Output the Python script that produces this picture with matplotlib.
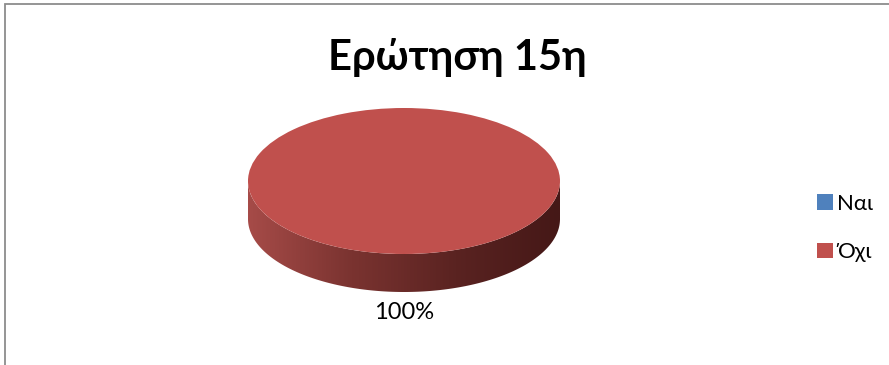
import numpy as np
import matplotlib
matplotlib.use("Agg")
import matplotlib.pyplot as plt
from matplotlib.colors import LinearSegmentedColormap
from matplotlib.patches import Polygon, Rectangle

plt.rcParams["font.family"] = ["Lato", "DejaVu Sans"]

W, H = 889, 365

titulo = "Ερώτηση 15η"
categorias = ["Ναι", "Όχι"]
valores = [0, 100]
colores = ["#4F81BD", "#C0504D"]

# geometria del pastel (pixeles)
cx, cy = 404, 181
rx, ry = 156, 73
grosor = 38
d = grosor / ry


def px_x(x):
    return x / W


def px_y(y):
    return 1 - y / H


fig = plt.figure(figsize=(W / 100, H / 100), dpi=100)

# marco gris
fig.patches.append(Rectangle((px_x(4.5), -0.1), 1.2, px_y(4.5) + 0.1,
                             transform=fig.transFigure, fill=False,
                             edgecolor="#8C8C8C", linewidth=1.3))

# ejes del pastel: radio 1 -> rx, ry pixeles
mx, my = 1.3, 1.3
ax_w = 2 * mx * rx
ax_h = (2 * my + d) * ry
left = cx - mx * rx
top = cy - my * ry
ax = fig.add_axes([px_x(left), px_y(top + ax_h), ax_w / W, ax_h / H])

wedges, _ = ax.pie(valores, colors=colores, startangle=90, counterclock=False,
                   radius=1, center=(0, 0),
                   wedgeprops=dict(edgecolor="none", linewidth=0))
for w in wedges:
    w.set_zorder(3)
ax.set_aspect("auto")
ax.set_xlim(-mx, mx)
ax.set_ylim(-my - d, my)
ax.axis("off")

# lado frontal con degradado
cmap = LinearSegmentedColormap.from_list(
    "lado", ["#A64B48", "#7A3330", "#5A2321", "#451817"])
for w in wedges:
    if w.theta2 - w.theta1 <= 0:
        continue
    t = np.linspace(180, 360, 200)
    rel = (t - w.theta1) % 360
    t = t[rel <= (w.theta2 - w.theta1) + 1e-9]
    if len(t) < 2:
        continue
    tr = np.radians(t)
    xs = np.cos(tr)
    ys = np.sin(tr)
    pts = np.concatenate([np.column_stack([xs, ys]),
                          np.column_stack([xs[::-1], ys[::-1] - d])])
    poly = Polygon(pts, closed=True, facecolor="none", edgecolor="none")
    ax.add_patch(poly)
    grad = np.linspace(0, 1, 256).reshape(1, -1)
    im = ax.imshow(grad, cmap=cmap, extent=[-1, 1, -1 - d, 0.2],
                   aspect="auto", zorder=2, interpolation="bilinear")
    im.set_clip_path(poly)

# etiqueta de porcentaje
total = sum(valores)
for w, v in zip(wedges, valores):
    if v == 0:
        continue
    ang = np.radians((w.theta1 + w.theta2) / 2)
    lx = np.cos(ang) * 1.0
    ly = np.sin(ang) * 1.0 - d - 0.14
    ax.text(lx, ly, f"{v / total:.0%}", ha="center", va="top",
            fontsize=17, color="#000000", zorder=5)

# titulo
fig.text(px_x(457), px_y(70), titulo, ha="center", va="baseline",
         fontsize=30, fontweight="bold", color="#000000")

# leyenda
fig.legend(wedges, categorias, loc="center left",
           bbox_to_anchor=(px_x(797), px_y(228)), frameon=False,
           fontsize=16, handlelength=0.7, handleheight=0.7,
           handletextpad=0.2, labelspacing=1.3)

fig.savefig("out.png", dpi=100)
